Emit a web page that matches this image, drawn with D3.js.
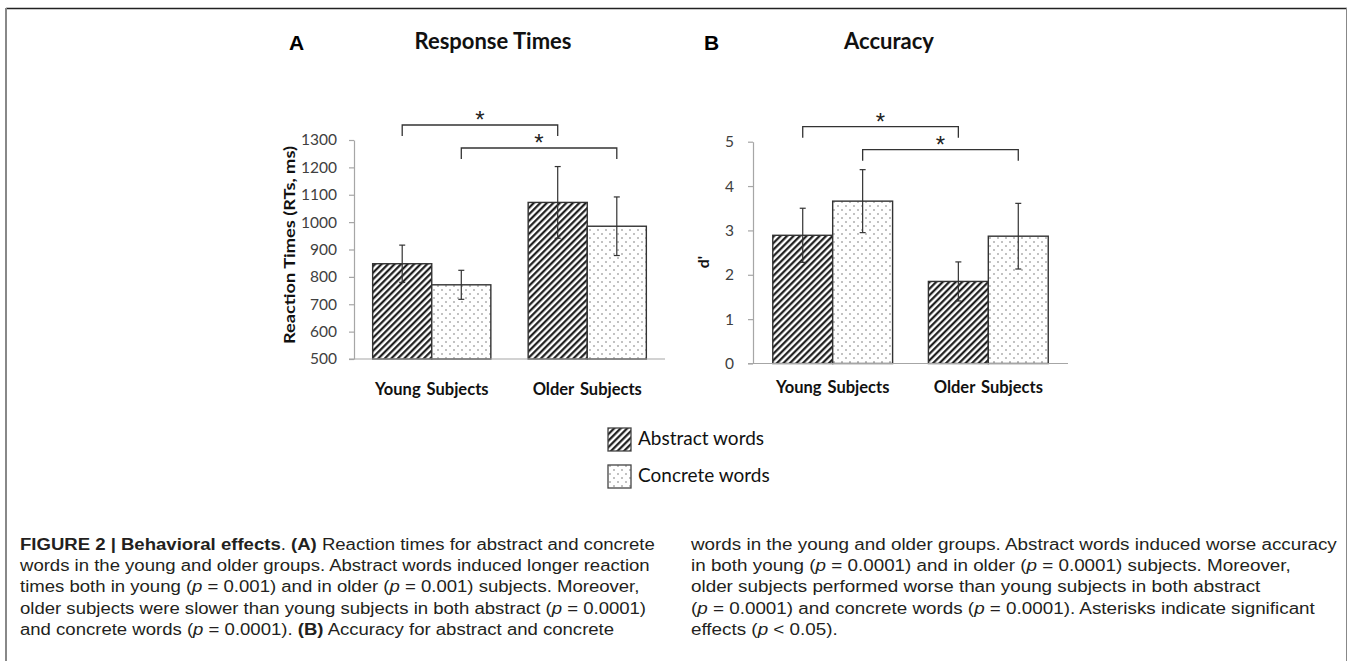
<!DOCTYPE html>
<html><head><meta charset="utf-8">
<script src="https://cdn.jsdelivr.net/npm/d3@7"></script>
<style>
html,body{margin:0;padding:0;background:#fff;}
svg{display:block;}
</style></head>
<body>
<svg id="chart" width="1349" height="661"></svg>
<script>
// ---------- data ----------
const categories = ["Young Subjects", "Older Subjects"];
const seriesNames = ["Abstract words", "Concrete words"];

// Panel A: Response times (ms)
const rtAbstract = [848, 1072];
const rtAbstractErr = [68, 131];
const rtConcrete = [771, 985];
const rtConcreteErr = [53, 107];
const rtTicks = [500, 600, 700, 800, 900, 1000, 1100, 1200, 1300];

// Panel B: Accuracy (d')
const accAbstract = [2.89, 1.85];
const accAbstractErr = [0.61, 0.44];
const accConcrete = [3.66, 2.87];
const accConcreteErr = [0.71, 0.74];
const accTicks = [0, 1, 2, 3, 4, 5];

// significance brackets: [group, series] -> [group, series]
const brackets = [
  {from: [0, 0], to: [1, 0], level: 0},
  {from: [0, 1], to: [1, 1], level: 1}
];

const captionLeft = [
  [["FIGURE 2 | Behavioral effects", "b"], [". ", ""], ["(A)", "b"], [" Reaction times for abstract and concrete", ""]],
  [["words in the young and older groups. Abstract words induced longer reaction", ""]],
  [["times both in young (", ""], ["p", "i"], [" = 0.001) and in older (", ""], ["p", "i"], [" = 0.001) subjects. Moreover,", ""]],
  [["older subjects were slower than young subjects in both abstract (", ""], ["p", "i"], [" = 0.0001)", ""]],
  [["and concrete words (", ""], ["p", "i"], [" = 0.0001). ", ""], ["(B)", "b"], [" Accuracy for abstract and concrete", ""]]
];
const captionRight = [
  [["words in the young and older groups. Abstract words induced worse accuracy", ""]],
  [["in both young (", ""], ["p", "i"], [" = 0.0001) and in older (", ""], ["p", "i"], [" = 0.0001) subjects. Moreover,", ""]],
  [["older subjects performed worse than young subjects in both abstract", ""]],
  [["(", ""], ["p", "i"], [" = 0.0001) and concrete words (", ""], ["p", "i"], [" = 0.0001). Asterisks indicate significant", ""]],
  [["effects (", ""], ["p", "i"], [" < 0.05).", ""]]
];

// ---------- drawing ----------
const svg = d3.select("#chart");
const chartFont = "Lato, 'Open Sans', sans-serif";

// patterns
const defs = svg.append("defs");
const hatch = defs.append("pattern").attr("id", "hatch")
  .attr("patternUnits", "userSpaceOnUse").attr("width", 4.6).attr("height", 4.6)
  .attr("patternTransform", "rotate(45)");
hatch.append("rect").attr("width", 4.6).attr("height", 4.6).attr("fill", "#fff");
hatch.append("line").attr("x1", 1.2).attr("y1", 0).attr("x2", 1.2).attr("y2", 4.6)
  .attr("stroke", "#111").attr("stroke-width", 2.1);

const dots = defs.append("pattern").attr("id", "dots")
  .attr("patternUnits", "userSpaceOnUse").attr("width", 8).attr("height", 8);
dots.append("rect").attr("width", 8).attr("height", 8).attr("fill", "#fff");
dots.append("circle").attr("cx", 2).attr("cy", 2).attr("r", 0.75).attr("fill", "#666");
dots.append("circle").attr("cx", 6).attr("cy", 6).attr("r", 0.75).attr("fill", "#666");

const fills = ["url(#hatch)", "url(#dots)"];

// frame
svg.append("line").attr("x1", 6).attr("x2", 1347).attr("y1", 8.5).attr("y2", 8.5)
  .attr("stroke", "#222").attr("stroke-width", 1.5);
svg.append("line").attr("x1", 6).attr("x2", 6).attr("y1", 8).attr("y2", 661)
  .attr("stroke", "#888").attr("stroke-width", 2);
svg.append("line").attr("x1", 1346.5).attr("x2", 1346.5).attr("y1", 8).attr("y2", 661)
  .attr("stroke", "#888").attr("stroke-width", 1);

function drawPanel(cfg) {
  const g = svg.append("g");
  const x0 = d3.scaleBand().domain(categories).range(cfg.xRange)
    .paddingInner(cfg.padIn).paddingOuter(cfg.padOut);
  const x1 = d3.scaleBand().domain(seriesNames).range([0, x0.bandwidth()]);
  const y = d3.scaleLinear().domain(cfg.domain).range(cfg.yRange);

  // y axis
  const yAxis = g.append("g").attr("transform", `translate(${cfg.xRange[0]},0)`)
    .call(d3.axisLeft(y).tickValues(cfg.ticks).tickFormat(d3.format("d"))
      .tickSize(5).tickSizeOuter(0).tickPadding(cfg.tickPad));
  yAxis.select(".domain").attr("stroke", "#a6a6a6").attr("stroke-width", 1.2);
  yAxis.selectAll(".tick line").attr("stroke", "#a6a6a6").attr("stroke-width", 1.2);
  yAxis.selectAll(".tick text").attr("fill", "#404040")
    .style("font-family", chartFont).style("font-size", "15.5px");

  // bars
  const values = [cfg.a, cfg.c];
  const errs = [cfg.ae, cfg.ce];
  categories.forEach((cat, i) => {
    seriesNames.forEach((s, j) => {
      const v = values[j][i];
      const bx = x0(cat) + x1(s);
      g.append("rect").attr("x", bx).attr("y", y(v))
        .attr("width", x1.bandwidth()).attr("height", y(cfg.domain[0]) - y(v))
        .attr("fill", fills[j]).attr("stroke", "#333").attr("stroke-width", 1.4);
    });
  });
  // error bars
  categories.forEach((cat, i) => {
    seriesNames.forEach((s, j) => {
      const v = values[j][i], e = errs[j][i];
      const cx = x0(cat) + x1(s) + x1.bandwidth() / 2;
      const eg = g.append("g").attr("stroke", "#333").attr("stroke-width", 1.2);
      eg.append("line").attr("x1", cx).attr("x2", cx).attr("y1", y(v + e)).attr("y2", y(v - e));
      eg.append("line").attr("x1", cx - 3).attr("x2", cx + 3).attr("y1", y(v + e)).attr("y2", y(v + e));
      eg.append("line").attr("x1", cx - 3).attr("x2", cx + 3).attr("y1", y(v - e)).attr("y2", y(v - e));
    });
  });

  // x axis
  const xAxis = g.append("g").attr("transform", `translate(0,${cfg.yRange[0]})`)
    .call(d3.axisBottom(x0).tickSize(0).tickPadding(cfg.catPad));
  xAxis.select(".domain").remove();
  xAxis.selectAll(".tick text").attr("fill", "#111")
    .style("font-family", chartFont).style("font-size", "16.5px").style("font-weight", "bold")
    .style("word-spacing", "2px");
  g.append("line").attr("x1", cfg.xRange[0] - 5).attr("x2", cfg.xRange[1])
    .attr("y1", cfg.yRange[0]).attr("y2", cfg.yRange[0])
    .attr("stroke", "#a6a6a6").attr("stroke-width", 1.2);

  // y title
  const yt = g.append("text").attr("transform", `translate(${cfg.yTitleX},${cfg.yTitleY}) rotate(-90)`)
    .attr("text-anchor", "middle").attr("dominant-baseline", "middle")
    .style("font-family", chartFont).style("font-size", "16px").style("font-weight", "bold")
    .attr("fill", "#111").text(cfg.yTitle);
  if (cfg.yTitleLen) yt.attr("textLength", cfg.yTitleLen).attr("lengthAdjust", "spacingAndGlyphs");

  // brackets
  const top = cfg.yRange[1];
  brackets.forEach(b => {
    const xa = x0(categories[b.from[0]]) + x1(seriesNames[b.from[1]]) + x1.bandwidth() / 2;
    const xb = x0(categories[b.to[0]]) + x1(seriesNames[b.to[1]]) + x1.bandwidth() / 2;
    const ytop = top - 15 + b.level * 23;
    g.append("path").attr("d", `M${xa},${ytop + 11}V${ytop}H${xb}V${ytop + 11}`)
      .attr("fill", "none").attr("stroke", "#333").attr("stroke-width", 1.3);
    g.append("text").attr("x", (xa + xb) / 2).attr("y", ytop + 3).attr("text-anchor", "middle")
      .style("font-family", "'Liberation Sans', Arial, sans-serif").style("font-size", "24px")
      .attr("fill", "#222").text("*");
  });

  // titles
  svg.append("text").attr("x", cfg.letterX).attr("y", 50)
    .style("font-family", "'Liberation Sans', Arial, sans-serif").style("font-size", "21px")
    .style("font-weight", "bold").attr("fill", "#000").text(cfg.letter);
  svg.append("text").attr("x", cfg.titleX).attr("y", 49).attr("text-anchor", "middle")
    .style("font-family", chartFont).style("font-size", "22px")
    .style("font-weight", "bold").attr("fill", "#111").text(cfg.title);
}

drawPanel({
  xRange: [354, 665], padIn: 0.24, padOut: 0.12,
  yRange: [359, 140], domain: [500, 1300], ticks: rtTicks, tickPad: 12,
  a: rtAbstract, ae: rtAbstractErr, c: rtConcrete, ce: rtConcreteErr,
  catPad: 24, yTitle: "Reaction Times (RTs, ms)", yTitleX: 291, yTitleY: 245, yTitleLen: 198,
  letter: "A", letterX: 289, title: "Response Times", titleX: 493
});
drawPanel({
  xRange: [753, 1068], padIn: 0.23, padOut: 0.127,
  yRange: [363.5, 141.7], domain: [0, 5], ticks: accTicks, tickPad: 14,
  a: accAbstract, ae: accAbstractErr, c: accConcrete, ce: accConcreteErr,
  catPad: 18, yTitle: "d'", yTitleX: 705, yTitleY: 262, yTitleLen: null,
  letter: "B", letterX: 704, title: "Accuracy", titleX: 889
});

// legend
const legend = svg.append("g");
seriesNames.forEach((s, j) => {
  const ly = 428 + j * 37;
  legend.append("rect").attr("x", 608).attr("y", ly).attr("width", 23).attr("height", 23)
    .attr("fill", fills[j]).attr("stroke", "#444").attr("stroke-width", 1.3);
  legend.append("text").attr("x", 638).attr("y", ly + 12).attr("dominant-baseline", "middle")
    .style("font-family", chartFont).style("font-size", "19px").attr("fill", "#111").text(s);
});

// caption
function drawCaption(lines, x, y0, targetWidth) {
  const t = svg.append("g");
  const texts = [];
  lines.forEach((segs, i) => {
    const tx = t.append("text").attr("x", 0).attr("y", y0 + i * 21.2)
      .style("font-family", "'Liberation Sans', Arial, sans-serif").style("font-size", "16px")
      .attr("fill", "#231f20");
    segs.forEach(([txt, st]) => {
      const ts = tx.append("tspan").text(txt);
      if (st === "b") ts.style("font-weight", "bold");
      if (st === "i") ts.style("font-style", "italic");
    });
    texts.push(tx);
  });
  const w = texts[0].node().getComputedTextLength();
  const sx = targetWidth / w;
  t.attr("transform", `translate(${x},0) scale(${sx},1)`);
}
drawCaption(captionLeft, 20, 550, 635);
drawCaption(captionRight, 691, 550, 646);
</script>
</body></html>
